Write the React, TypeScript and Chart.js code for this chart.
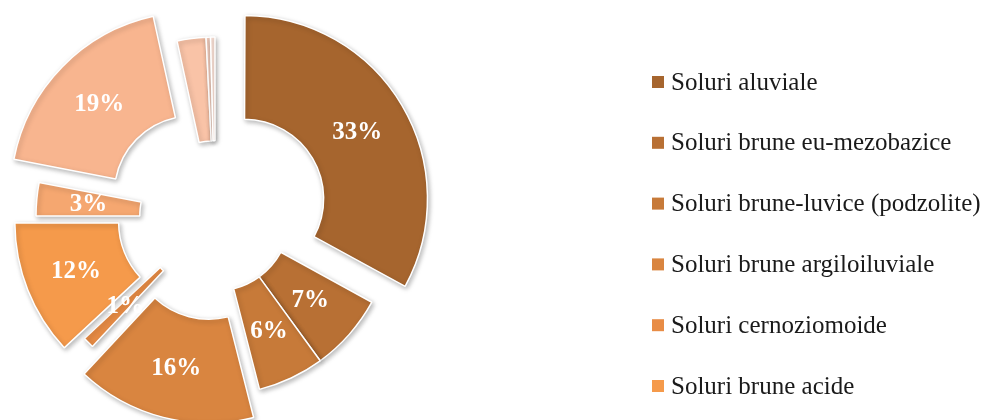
import React, { useEffect, useRef } from 'react';
import { Chart, registerables } from 'chart.js';

Chart.register(...registerables);

const categories = [
  'Soluri aluviale',
  'Soluri brune eu-mezobazice',
  'Soluri brune-luvice (podzolite)',
  'Soluri brune argiloiluviale',
  'Soluri cernoziomoide',
  'Soluri brune acide',
  'Soluri podzolice',
  'Soluri gleice',
  'Regosoluri',
  'Litosoluri',
  'Soluri hidromorfe',
];
const values = [33, 7, 6, 16, 1, 12, 3, 18.6, 2.6, 0.4, 0.4];
const colors = [
  '#A6652E', '#B87034', '#C77A39', '#D98540', '#E88C45', '#F59A4B',
  '#F5A770', '#F8B58F', '#F9C3A7', '#FBD5C5', '#FDE3D8',
];
// explosion of each slice, in pixels
const explodePx = [34, 0, 0, 25, 0, 17, 0, 32, 0, 0, 0];
const LABELLED = 8;
const LEGEND_ITEMS = 6;
const OFFSET_DIV = 4;

const FONT = '"Liberation Serif", "Times New Roman", serif';

const shadowPlugin = {
  id: 'sliceShadow',
  beforeDatasetsDraw(chart: any) {
    const ctx = chart.ctx;
    ctx.save();
    ctx.shadowColor = 'rgba(0,0,0,0.28)';
    ctx.shadowBlur = 5;
    ctx.shadowOffsetX = 1.5;
    ctx.shadowOffsetY = 2;
  },
  afterDatasetsDraw(chart: any) {
    chart.ctx.restore();
  },
};

const labelPlugin = {
  id: 'sliceLabels',
  afterDatasetsDraw(chart: any) {
    const ctx = chart.ctx;
    const meta = chart.getDatasetMeta(0);
    const data = chart.data.datasets[0].data as number[];
    const total = data.reduce((a, b) => a + b, 0);
    ctx.save();
    ctx.font = `bold 25px ${FONT}`;
    ctx.fillStyle = '#ffffff';
    ctx.textAlign = 'center';
    ctx.textBaseline = 'middle';
    meta.data.forEach((arc: any, i: number) => {
      if (i >= LABELLED) return;
      const { x, y, startAngle, endAngle, innerRadius, outerRadius, circumference } = arc.getProps(
        ['x', 'y', 'startAngle', 'endAngle', 'innerRadius', 'outerRadius', 'circumference'],
        true
      );
      const shift = (arc.options.offset || 0) / OFFSET_DIV;
      const fix = 1 - Math.sin(Math.min(Math.PI, circumference || 0));
      const mid = (startAngle + endAngle) / 2;
      const r = (innerRadius + outerRadius) / 2 + shift * (1 + fix);
      const pct = Math.round((data[i] / total) * 100) + '%';
      ctx.fillText(pct, x + Math.cos(mid) * r, y + Math.sin(mid) * r + 1);
    });
    ctx.restore();
  },
};

const legendPlugin = {
  id: 'sideLegend',
  afterDraw(chart: any) {
    const ctx = chart.ctx;
    const ds = chart.data.datasets[0];
    ctx.save();
    ctx.font = `25px ${FONT}`;
    ctx.textBaseline = 'middle';
    ctx.textAlign = 'left';
    for (let i = 0; i < LEGEND_ITEMS; i++) {
      const cy = 82 + i * 60.8;
      ctx.fillStyle = ds.backgroundColor[i];
      ctx.fillRect(652, cy - 6, 12, 12);
      ctx.fillStyle = '#1a1a1a';
      ctx.fillText(chart.data.labels[i], 671, cy + 1);
    }
    ctx.restore();
  },
};

export default function App() {
  const ref = useRef<HTMLCanvasElement | null>(null);
  useEffect(() => {
    if (!ref.current) return;
    const chart = new Chart(ref.current, {
      type: 'doughnut',
      data: {
        labels: categories,
        datasets: [
          {
            data: values,
            backgroundColor: colors,
            borderColor: '#ffffff',
            borderWidth: 1.5,
            offset: explodePx.map((p) => p * OFFSET_DIV),
          },
        ],
      },
      options: {
        responsive: false,
        animation: false,
        radius: 179,
        cutout: '42%',
        layout: { padding: { left: 0, right: 555, top: 12, bottom: 0 } },
        plugins: {
          legend: { display: false },
          tooltip: { enabled: false },
        },
      } as any,
      plugins: [shadowPlugin, labelPlugin, legendPlugin],
    });
    return () => chart.destroy();
  }, []);
  return (
    <div style={{ position: 'fixed', left: 0, top: 0, width: 985, height: 420, background: '#fff' }}>
      <canvas ref={ref} width={985} height={420} style={{ display: 'block' }} />
    </div>
  );
}
